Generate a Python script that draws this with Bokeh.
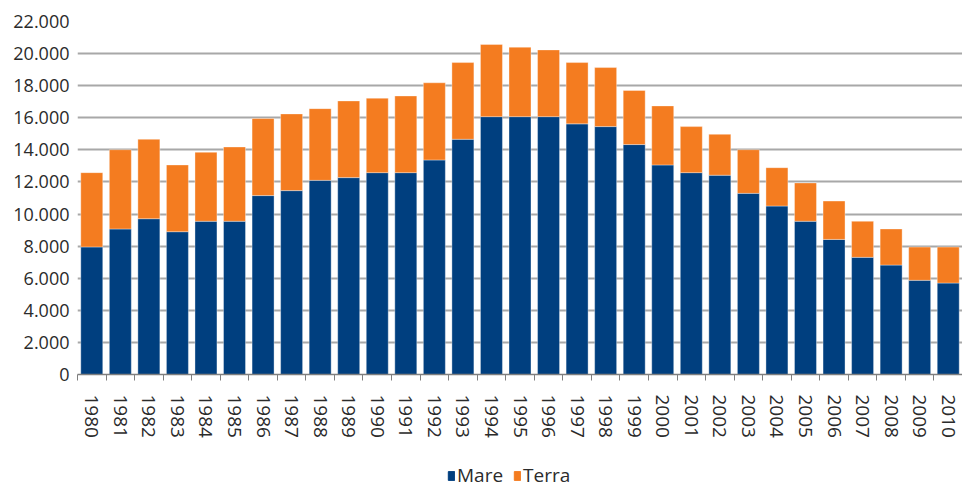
from bokeh.plotting import figure
from bokeh.layouts import column
from bokeh.models import FixedTicker, Range1d, Legend, LegendItem, ColumnDataSource
from bokeh.embed import file_html
from bokeh.resources import INLINE

years = [str(y) for y in range(1980, 2011)]
mare = [7950, 9070, 9710, 8900, 9550, 9550, 11150, 11460, 12100, 12270, 12580,
        12580, 13370, 14660, 16070, 16070, 16070, 15620, 15450, 14330, 13060,
        12580, 12420, 11290, 10500, 9550, 8420, 7300, 6820, 5870, 5700]
terra = [4630, 4940, 4950, 4160, 4300, 4630, 4800, 4780, 4470, 4780, 4640,
         4780, 4810, 4780, 4500, 4330, 4160, 3820, 3680, 3370, 3680,
         2870, 2550, 2720, 2390, 2390, 2390, 2250, 2250, 2070, 2240]
series = ["Mare", "Terra"]
y_ticks = list(range(0, 22001, 2000))
y_labels = ["0", "2.000", "4.000", "6.000", "8.000", "10.000", "12.000",
            "14.000", "16.000", "18.000", "20.000", "22.000"]

BLUE = "#003f7f"
ORANGE = "#f47c20"
FONT = "Open Sans"
TXT = "#2b2b2b"

xs = list(range(len(years)))
src = ColumnDataSource(dict(x=xs, mare=mare, terra=terra))

p = figure(width=962, height=440, output_backend="svg", toolbar_location=None,
           x_range=Range1d(-0.5, len(years) - 0.5), y_range=Range1d(0, 22000),
           min_border_left=77, min_border_right=0, min_border_top=21,
           min_border_bottom=66)
p.outline_line_color = None

p.vbar_stack(["mare", "terra"], x="x", width=0.77, source=src,
             color=[BLUE, ORANGE], line_color="white", line_alpha=0.35,
             line_width=1)

# y axis
p.yaxis.ticker = FixedTicker(ticks=y_ticks)
p.yaxis.major_label_overrides = {t: l for t, l in zip(y_ticks, y_labels)}
p.yaxis.axis_line_color = None
p.yaxis.major_tick_line_color = None
p.yaxis.minor_tick_line_color = None
p.yaxis.major_label_text_font = FONT
p.yaxis.major_label_text_font_size = "18px"
p.yaxis.major_label_text_color = TXT
p.yaxis.major_label_standoff = 2

# x axis: labels at bar centres, tick marks between bars
bounds = [i - 0.5 for i in range(len(years) + 1)]
p.xaxis.ticker = FixedTicker(ticks=xs, minor_ticks=bounds)
p.xaxis.major_label_overrides = {i: y for i, y in zip(xs, years)}
p.xaxis.major_label_orientation = "vertical"
p.xaxis.major_tick_line_color = None
p.xaxis.minor_tick_line_color = "#7f7f7f"
p.xaxis.minor_tick_out = 6
p.xaxis.minor_tick_in = 0
p.xaxis.axis_line_color = "#7f7f7f"
p.xaxis.axis_line_width = 1.5
p.xaxis.major_label_text_font = FONT
p.xaxis.major_label_text_font_size = "19px"
p.xaxis.major_label_text_color = TXT
p.xaxis.major_label_standoff = 14

p.xgrid.grid_line_color = None
p.ygrid.ticker = FixedTicker(ticks=y_ticks)
p.ygrid.grid_line_color = "#a8a8a8"
p.ygrid.grid_line_width = 2

# legend strip (its frame is aligned with the main frame by the column)
lg = figure(width=962, height=48, output_backend="svg", toolbar_location=None,
            x_range=Range1d(0, 1), y_range=Range1d(0, 1),
            min_border_left=77, min_border_right=0, min_border_top=0,
            min_border_bottom=0)
lg.outline_line_color = None
lg.axis.visible = False
lg.grid.visible = False
rm = lg.vbar(x="x", top="mare", width=0.5, source=src, color=BLUE, visible=False)
rt = lg.vbar(x="x", top="terra", width=0.5, source=src, color=ORANGE, visible=False)
legend = Legend(items=[LegendItem(label=series[0], renderers=[rm]),
                       LegendItem(label=series[1], renderers=[rt])],
                orientation="horizontal", location=(370, 0),
                border_line_color=None, background_fill_alpha=0,
                label_text_font=FONT,
                label_text_font_size="19px", label_text_color=TXT,
                glyph_width=8, glyph_height=11, label_standoff=2,
                spacing=10, padding=0, margin=0,
                inactive_fill_alpha=0)
lg.add_layout(legend, "center")

layout = column(p, lg, spacing=0)
open("out.html", "w").write(file_html(layout, INLINE))
